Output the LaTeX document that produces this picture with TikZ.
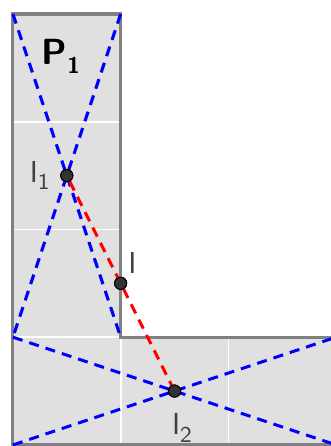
\documentclass[tikz,border=0pt]{standalone}
\usepackage{tikz}
\usetikzlibrary{positioning}

\newcommand{\lowsub}[1]{\raisebox{-0.55ex}{\small #1}}

\begin{document}
\begin{tikzpicture}[
    x=1.5cm, y=1.5cm,
    cell/.style={fill=black!12},
    gridline/.style={white, line width=0.7pt},
    border/.style={draw=black!50, line width=1.2pt},
    diag/.style={blue, line width=1.2pt, dash pattern=on 4pt off 2.8pt},
    joinline/.style={red, line width=1.2pt, dash pattern=on 4pt off 2.8pt},
    pt/.style={circle, fill=black!80, draw=black, inner sep=0pt, minimum size=4.8pt},
    lbl/.style={font=\sffamily\large, text=black!75, inner sep=1pt}
]
\useasboundingbox (-0.12,-0.01) rectangle (2.944,4.13);

% L-shaped region made of five cells
\fill[cell] (0,0) rectangle (3,1);
\fill[cell] (0,1) rectangle (1,4);
\draw[gridline] (0,1) -- (1,1) (0,2) -- (1,2) (0,3) -- (1,3)
                (1,0) -- (1,1) (2,0) -- (2,1);
\draw[border] (0,0) -- (0,4) -- (1,4) -- (1,1) -- (3,1) -- (3,0) -- cycle;

\coordinate (vtl) at (0,4);
\coordinate (vtr) at (1,4);
\coordinate (vbl) at (0,1);
\coordinate (vbr) at (1,1);
\coordinate (hbl) at (0,0);
\coordinate (htr) at (3,1);
\coordinate (hbr) at (3,0);

% diagonals of both rectangles
\draw[diag] (vtl) -- (vbr);
\draw[diag] (vtr) -- (vbl);
\draw[diag] (vbl) -- (hbr);
\draw[diag] (hbl) -- (htr);

\node[pt] (i1) at (0.5,2.5) {};
\node[pt] (i2) at (1.5,0.5) {};
\node[pt] (i) at (1,1.5) {};

% line joining the two centres
\draw[joinline] (i1) -- (i2);
\node[pt] at (i1) {};
\node[pt] at (i2) {};
\node[pt] at (i) {};

\node[lbl, font=\sffamily\bfseries\Large, text=black] (p1) at (0.444,3.61) {P\lowsub{1}};
\node[lbl, left=3pt of i1] (li1) {I\lowsub{1}};
\node[lbl, above right=1pt and 0pt of i] (li) {I};
\node[lbl, below right=6pt and -4pt of i2] (li2) {I\lowsub{2}};
\end{tikzpicture}
\end{document}
